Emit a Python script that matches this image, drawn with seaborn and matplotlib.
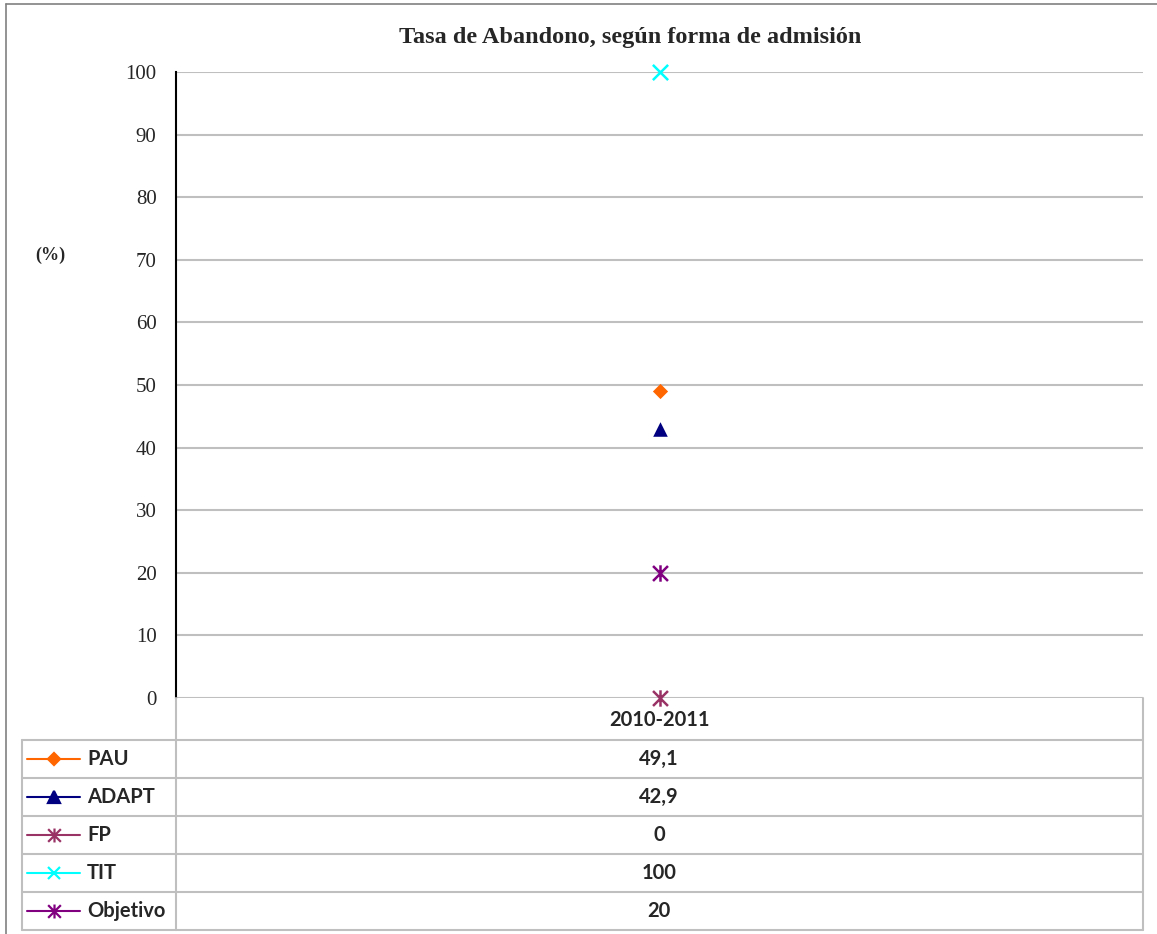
import numpy as np
import pandas as pd
import matplotlib
matplotlib.use('Agg')
import matplotlib.pyplot as plt
from matplotlib.lines import Line2D
from matplotlib.path import Path
import seaborn as sns

# data
periodos = ['2010-2011']
series = ['PAU', 'ADAPT', 'FP', 'TIT', 'Objetivo']
valores = [49.1, 42.9, 0, 100, 20]
colores = ['#FF6600', '#000080', '#993366', '#00FFFF', '#800080']
yticks = list(range(0, 101, 10))

# excel-like star: an x with a vertical bar
estrella = Path([(-1, -1), (1, 1), (-1, 1), (1, -1), (0, -1.1), (0, 1.1)],
                [Path.MOVETO, Path.LINETO, Path.MOVETO, Path.LINETO, Path.MOVETO, Path.LINETO])
marcadores = ['D', '^', estrella, 'x', estrella]
tamanos = [60, 110, 140, 120, 140]

df = pd.DataFrame({'serie': series, 'periodo': periodos * len(series), 'valor': valores})

W, H = 1157, 934
fig = plt.figure(figsize=(W / 100, H / 100), dpi=100)
sns.set_style('white')

def fx(x):
    return x / W

def fy(y):
    return 1 - y / H

serif = 'Liberation Serif'
sans = 'Lato'

# plot area
ax = fig.add_axes([fx(176), fy(698), (1143 - 176) / W, (698 - 72) / H])
for i, s in enumerate(series):
    d = df[df.serie == s]
    if marcadores[i] in ('D', '^'):
        kw = dict(linewidth=0)
    else:
        kw = dict(linewidth=1.8, edgecolor=colores[i])
    sns.scatterplot(data=d, x='periodo', y='valor', color=colores[i], marker=marcadores[i],
                    s=tamanos[i], ax=ax, legend=False, zorder=5, clip_on=False, **kw)

ax.set_xlim(-0.5, 0.5)
ax.set_ylim(0, 100)
ax.set_yticks(yticks)
ax.set_yticklabels([str(t) for t in yticks], fontfamily=serif, fontsize=15)
ax.set_xticks([])
ax.set_xlabel('')
ax.set_ylabel('')
ax.yaxis.grid(True, color='#BFBFBF', lw=1.5)
ax.set_axisbelow(True)
for sp in ['top', 'right', 'bottom']:
    ax.spines[sp].set_visible(False)
ax.spines['left'].set_color('black')
ax.spines['left'].set_linewidth(1.5)
ax.spines['left'].set_zorder(6)
ax.tick_params(axis='y', direction='out', length=6, width=1.5, color='black', pad=8)

# title and unit
fig.text(fx(630), fy(38), 'Tasa de Abandono, según forma de admisión', ha='center', va='center',
         fontfamily=serif, fontweight='bold', fontsize=17.5)
fig.text(fx(50), fy(255), '(%)', ha='center', va='center', fontfamily=serif, fontweight='bold', fontsize=13)

# outer frame (top and left edges visible)
fig.add_artist(Line2D([fx(6), fx(W)], [fy(4), fy(4)], color='#808080', lw=1.2))
fig.add_artist(Line2D([fx(6), fx(6)], [fy(4), fy(H)], color='#808080', lw=1.2))

# data table
gris = '#BFBFBF'
x_izq, x_eje, x_der = 22, 176, 1143
y_filas = [740, 778, 816, 854, 892, 930]
for y in y_filas:
    fig.add_artist(Line2D([fx(x_izq), fx(x_der)], [fy(y), fy(y)], color=gris, lw=1.5))
fig.add_artist(Line2D([fx(x_izq), fx(x_izq)], [fy(740), fy(930)], color=gris, lw=1.5))
fig.add_artist(Line2D([fx(x_eje), fx(x_eje)], [fy(698), fy(930)], color=gris, lw=1.5))
fig.add_artist(Line2D([fx(x_der), fx(x_der)], [fy(698), fy(930)], color=gris, lw=1.5))

x_val = 659
fs_tabla = 14.5
fig.text(fx(x_val), fy(720), periodos[0], ha='center', va='center', fontfamily=sans,
         fontweight='bold', fontsize=fs_tabla)
for i, s in enumerate(series):
    yc = (y_filas[i] + y_filas[i + 1]) / 2
    fig.add_artist(Line2D([fx(27), fx(80)], [fy(yc), fy(yc)], color=colores[i], lw=1.5))
    fig.add_artist(Line2D([fx(53.5)], [fy(yc)], color=colores[i], marker=marcadores[i],
                          markersize=np.sqrt(tamanos[i]) * 0.85, mew=1.6, lw=0,
                          markeredgecolor=colores[i]))
    fig.text(fx(87), fy(yc), s, ha='left', va='center', fontfamily=sans, fontweight='bold',
             fontsize=fs_tabla)
    txt = f'{valores[i]:g}'.replace('.', ',')
    fig.text(fx(x_val), fy(yc), txt, ha='center', va='center', fontfamily=sans,
             fontweight='bold', fontsize=fs_tabla)

fig.savefig('out.png', dpi=100)
